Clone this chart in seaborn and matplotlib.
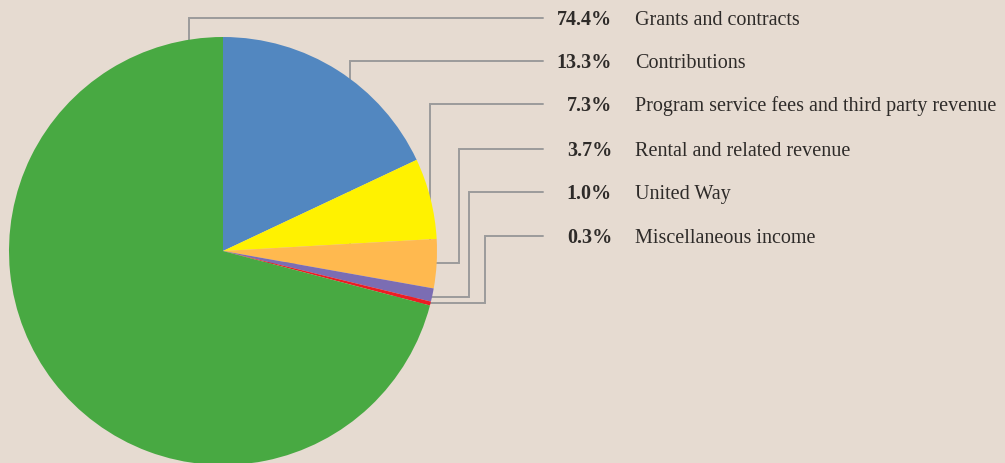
import numpy as np
import pandas as pd
import seaborn as sns
import matplotlib.pyplot as plt

# revenue sources, as labelled
sources = ["Grants and contracts", "Contributions",
           "Program service fees and third party revenue",
           "Rental and related revenue", "United Way", "Miscellaneous income"]
pct_labels = [74.4, 13.3, 7.3, 3.7, 1.0, 0.3]
# slice shares as drawn in the pie (%)
slice_shares = [70.9, 18.0, 6.1, 3.7, 1.0, 0.3]
colors = ["#48a942", "#5287c0", "#fff200", "#ffb94f", "#7b6db3", "#ed1c24"]

df = pd.DataFrame({"source": sources, "pct": pct_labels,
                   "share": slice_shares, "color": colors})

sns.set_theme(style="white")
plt.rcParams["font.family"] = ["Liberation Serif", "DejaVu Serif"]

W, H = 1005, 463
bg = "#e6dbd1"
fig = plt.figure(figsize=(W / 100, H / 100), dpi=100, facecolor=bg)
ax = fig.add_axes([0, 0, 1, 1])
ax.set_facecolor(bg)

cx, cy, r = 223, H - 251, 214

# pie drawn clockwise from 12 o'clock, green slice last
order = list(range(1, len(df))) + [0]
wedges, _ = ax.pie(df["share"].iloc[order], colors=df["color"].iloc[order],
                   startangle=90, counterclock=False, center=(cx, cy), radius=r,
                   wedgeprops=dict(linewidth=0), frame=True)
for w in wedges:
    w.set_zorder(3)
ax.set_xlim(0, W)
ax.set_ylim(0, H)
ax.set_aspect("equal")
ax.axis("off")

# leader lines: (vertical x, attach y or None)
line_c = "#9b9b9b"
text_y = [18, 61, 104, 149, 192, 236]
routes = [(189, None), (350, None), (430, None), (459, 263), (469, 297), (485, 303)]
line_end = 543
for ty, (vx, ay) in zip(text_y, routes):
    y0 = H - ty
    if ay is None:
        xs, ys = [line_end, vx, vx], [y0, y0, cy]
    else:
        xs, ys = [line_end, vx, vx, cx], [y0, y0, H - ay, H - ay]
    ax.plot(xs, ys, color=line_c, lw=1.4, zorder=2, solid_joinstyle="miter")

for ty, row in zip(text_y, df.itertuples()):
    ax.text(612, H - ty - 7, f"{row.pct:.1f}%", ha="right", va="baseline",
            fontsize=14.5, fontweight="bold", color="#2e2b29")
    ax.text(635, H - ty - 7, row.source, ha="left", va="baseline",
            fontsize=14.5, color="#2e2b29")

fig.savefig("out.png", dpi=100, facecolor=bg)
